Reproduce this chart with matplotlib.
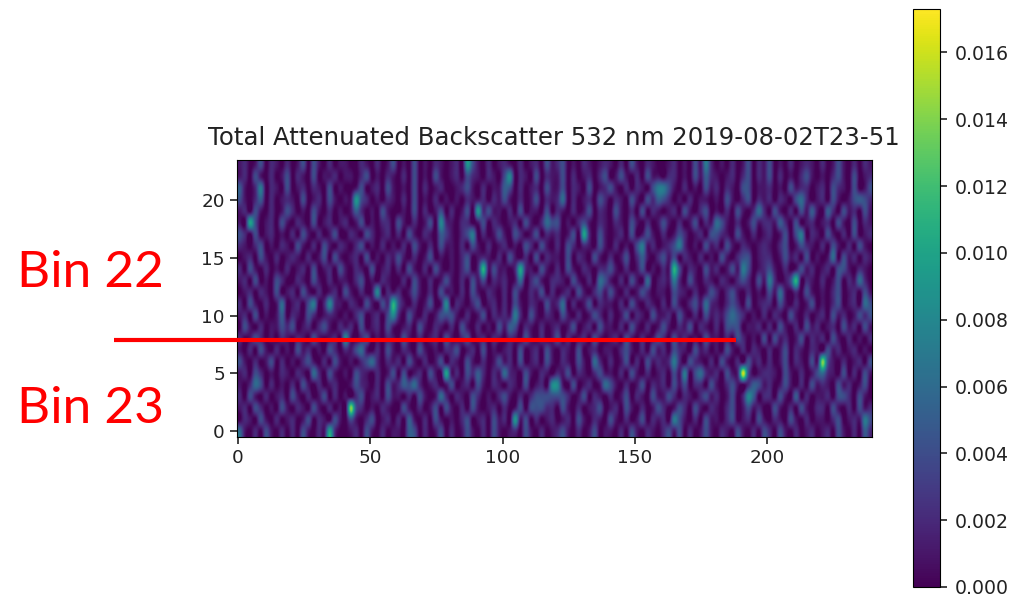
import numpy as np
import matplotlib
matplotlib.use('Agg')
import matplotlib.pyplot as plt
from matplotlib.lines import Line2D

# Backscatter, top row first, one char per 2 profiles,
# in units of 0.001 (a=10 ... h=17)
rows = [
    "1201402102 0140410201 1002102014 0104010210 1209410201 2102012041 2401021012 1020410210 0120104172 0102014021 4010201210 2014102021",
    "1204102014 0210401120 1102401021 0204010410 1204210210 4802104021 1402012024 0141020411 0220104152 1012024021 4020102410 1024104012",
    "5102702104 0120210401 0014012041 0104020120 0124102011 5402012041 1402104012 4102021047 7410201041 2021044011 2010412201 2042104014",
    "4102502012 1040120410 1194201021 0204010201 0102112021 4102014021 2602012042 0210410425 4201020110 1041024021 2021046201 2041014542",
    "1204102014 2010410201 0152010410 0104020140 2014092411 0204011040 2102014021 0410204021 0120410240 1020410262 0410204151 0520412041",
    "10a4012041 0210401201 2014010220 4102014082 1022014021 0120410264 4010241021 0210410201 4102014021 6410201412 2152040120 1204104021",
    "4204012010 2041020140 0210420120 2041021053 1024702014 1042014021 20140a2041 0120401410 2014201204 4210410201 2014047021 0410204012",
    "2102401021 0410204102 1024010201 0204102041 1020410201 2010420410 2042021041 0201047120 1247201041 2041021012 1024014210 2041020410",
    "0120410201 2102014041 0120401021 4102014010 1024012102 0410204021 1040210410 2014025102 4140210201 0410244012 2014120401 0160412021",
    "2041020102 0120401204 1021040120 2041020410 102402b141 102a210410 2041021022 4102014010 21b4021041 2014174012 4102014120 1204410210",
    "1204010420 0210410201 1024010210 0204102014 1020414021 2016024102 2104102064 1020410601 2172041021 0210242041 72014b0210 2014021620",
    "0120210401 2041020120 4102018021 2014102041 1020410210 2041021402 0120410241 4102014201 1042102014 2024102010 4161020410 1024012041",
    "2041020160 1204702821 021041042b 4102014018 0210240120 2041021041 2602014021 1020410210 2041024162 1024204012 2041020140 1024012064",
    "1204010150 2104201210 1024012048 2041020144 4102014021 2172041021 0410201420 2014021041 1204102041 2146420102 0210410201 2041201424",
    "0410201142 4012024102 1204012041 0120410210 2041020104 1540210201 2014012041 1020410201 4102140210 2044401120 2041020412 0120412041",
    "2014201021 0210410120 8102401021 0410201204 1024012021 0210410201 4020120410 1204102014 2041201041 1020420104 0412014021 2041020102",
    "1020410201 0412010420 2146102041 0210410102 2401204010 1204012041 0210401201 1024102041 2042104120 1041020210 2014021021 0412012010",
    "4102014020 1024102041 0102462021 2041020140 2104102014 1204012041 0210410620 2014020412 1272042102 0410204120 2014021041 e410201204",
    "1204201021 0210620410 1042102014 040120410a 1204252021 6210410210 2140210241 1020410201 2041704621 20412g4012 2104102014 6210402041",
    "1026402010 2041020120 0142102041 2546201201 4012041021 0210401208 8104012016 4102014021 2041402204 1024102541 2014102041 2104120140",
    "2041020120 4102014020 1024012041 1020410162 0210420102 4102024444 4420140210 2014021041 1420210241 2014028502 2041050201 1204420410",
    "1204201041 0210410201 0e42010210 0410201404 1020410120 2014044422 0410201240 1204102014 2014204102 1024014120 0410204102 2041020412",
    "0210410201 2014021041 0410240120 2051020410 1024012041 2091402012 0120410210 4102014021 2074102041 1024012041 0210410201 1024012174",
    "6102041020 2041021a20 0120410201 1054020140 2014102041 0120410201 2410201401 1020410210 2414020141 0210410204 2041020120 1204102052",
]
cbar_ticks = [0.000, 0.002, 0.004, 0.006, 0.008, 0.010, 0.012, 0.014, 0.016]
vmax = 0.0173
title = 'Total Attenuated Backscatter 532 nm 2019-08-02T23-51'

data = np.array([[int(c, 18) * 0.001 for c in r.replace(' ', '')] for r in rows])
W, H = 1015, 599

fig = plt.figure(figsize=(W / 100, H / 100), dpi=100)
ax = fig.add_axes([236.7 / W, (H - 436.8) / H, 635.3 / W, 277.2 / H])
im = ax.imshow(data[::-1], origin='lower', aspect='auto', cmap='viridis', vmin=0, vmax=vmax,
               extent=(-0.5, 239.5, -0.5, 23.5), interpolation='catrom')
ax.set_xticks([0, 50, 100, 150, 200])
ax.set_yticks([0, 5, 10, 15, 20])
ax.tick_params(labelsize=13.2, length=5, width=1.2, colors='#222222')
ax.set_title(title, fontsize=17.6, pad=10.5, color='#222222')

cax = fig.add_axes([913 / W, (H - 587) / H, 27 / W, 578 / H])
cb = fig.colorbar(im, cax=cax)
cb.set_ticks(cbar_ticks)
cb.set_ticklabels(['%.3f' % t for t in cbar_ticks])
cax.tick_params(labelsize=13.6, length=5, width=1.2, pad=5.5, colors='#222222')

# red annotations sit on top of the screenshot
fig.add_artist(Line2D([114 / W, 736 / W], [(H - 340) / H] * 2, color='#ff0000', lw=3, solid_capstyle='butt'))
for txt, y in [('Bin 22', 273), ('Bin 23', 409)]:
    fig.text(17 / W, (H - y) / H, txt, color='#ff0000', fontsize=37, family='Lato', va='center', ha='left')

fig.savefig('out.png', dpi=100)
